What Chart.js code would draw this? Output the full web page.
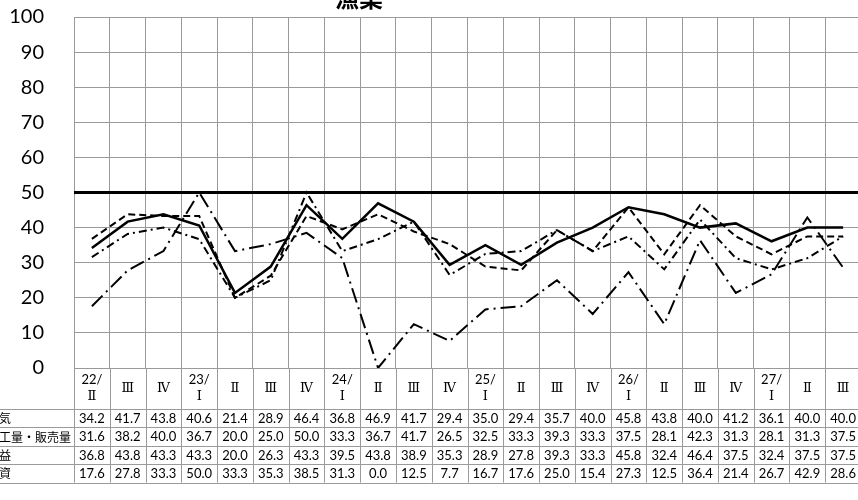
<!DOCTYPE html>
<html>
<head>
<meta charset="utf-8">
<script src="https://cdn.jsdelivr.net/npm/chart.js@4"></script>
<style>
  html, body { margin: 0; padding: 0; background: #fff; overflow: hidden; }
  #wrap { width: 862px; height: 500px; position: relative; }
</style>
</head>
<body>
<div id="wrap"><canvas id="diChart"></canvas></div>
<script>
  // Data
  const titleText = '漁業';
  const categories = [['22/', 'Ⅱ'], ['Ⅲ'], ['Ⅳ'], ['23/', 'Ⅰ'], ['Ⅱ'], ['Ⅲ'], ['Ⅳ'],
    ['24/', 'Ⅰ'], ['Ⅱ'], ['Ⅲ'], ['Ⅳ'], ['25/', 'Ⅰ'], ['Ⅱ'], ['Ⅲ'], ['Ⅳ'],
    ['26/', 'Ⅰ'], ['Ⅱ'], ['Ⅲ'], ['Ⅳ'], ['27/', 'Ⅰ'], ['Ⅱ'], ['Ⅲ']];
  const seriesNames = ['景気', '加工量・販売量', '収益', '投資'];
  const keiki = [34.2, 41.7, 43.8, 40.6, 21.4, 28.9, 46.4, 36.8, 46.9, 41.7, 29.4, 35.0, 29.4, 35.7, 40.0, 45.8, 43.8, 40.0, 41.2, 36.1, 40.0, 40.0];
  const kakouryou = [31.6, 38.2, 40.0, 36.7, 20.0, 25.0, 50.0, 33.3, 36.7, 41.7, 26.5, 32.5, 33.3, 39.3, 33.3, 37.5, 28.1, 42.3, 31.3, 28.1, 31.3, 37.5];
  const shueki = [36.8, 43.8, 43.3, 43.3, 20.0, 26.3, 43.3, 39.5, 43.8, 38.9, 35.3, 28.9, 27.8, 39.3, 33.3, 45.8, 32.4, 46.4, 37.5, 32.4, 37.5, 37.5];
  const toushi = [17.6, 27.8, 33.3, 50.0, 33.3, 35.3, 38.5, 31.3, 0.0, 12.5, 7.7, 16.7, 17.6, 25.0, 15.4, 27.3, 12.5, 36.4, 21.4, 26.7, 42.9, 28.6];
  const yTicks = [0, 10, 20, 30, 40, 50, 60, 70, 80, 90, 100];
  const baseLine = 50;

  const seriesValues = [keiki, kakouryou, shueki, toushi];
  const lineDashes = [[], [8, 4, 2, 4], [7, 4], [15, 5, 2, 5]];
  const lineWidths = [2.5, 2, 2, 2];

  const rowHeaderH = 41;
  const rowH = 18.4;

  const tablePlugin = {
    id: 'dataTable',
    beforeDatasetsDraw(chart) {
      const { ctx, chartArea } = chart;
      const y = chart.scales.y.getPixelForValue(baseLine);
      ctx.save();
      ctx.strokeStyle = '#000';
      ctx.lineWidth = 3;
      ctx.beginPath();
      ctx.moveTo(chartArea.left, y);
      ctx.lineTo(chartArea.right, y);
      ctx.stroke();
      ctx.restore();
    },
    afterDraw(chart) {
      const { ctx, chartArea } = chart;
      const x = chart.scales.x;
      const n = categories.length;
      const w = (chartArea.right - chartArea.left) / n;
      const top = chartArea.bottom;
      const headBottom = top + rowHeaderH;
      const bottom = headBottom + rowH * seriesValues.length;

      ctx.save();
      ctx.strokeStyle = '#9a9a9a';
      ctx.lineWidth = 1;
      // vertical lines
      for (let i = 0; i <= n; i++) {
        const px = Math.round(chartArea.left + i * w) + 0.5;
        ctx.beginPath();
        ctx.moveTo(px, top);
        ctx.lineTo(px, bottom);
        ctx.stroke();
      }
      // horizontal lines
      for (let r = 0; r <= seriesValues.length; r++) {
        const py = Math.round(headBottom + r * rowH) + 0.5;
        ctx.beginPath();
        ctx.moveTo(0, py);
        ctx.lineTo(chartArea.right, py);
        ctx.stroke();
      }

      // header row
      ctx.fillStyle = '#000';
      ctx.textAlign = 'center';
      ctx.textBaseline = 'middle';
      categories.forEach((lab, i) => {
        const cx = x.getPixelForValue(i);
        if (lab.length === 2) {
          ctx.font = '13px Lato, "Noto Sans CJK JP", sans-serif';
          ctx.fillText(lab[0], cx, top + 12);
          ctx.font = '13px "DejaVu Serif", "Noto Sans CJK JP", serif';
          ctx.fillText(lab[1], cx, top + 29);
        } else {
          ctx.font = '13px "DejaVu Serif", "Noto Sans CJK JP", serif';
          ctx.fillText(lab[0], cx, top + 21);
        }
      });

      // data rows
      ctx.font = '13px Lato, sans-serif';
      seriesValues.forEach((vals, r) => {
        const cy = headBottom + r * rowH + rowH / 2 + 0.5;
        vals.forEach((v, i) => {
          ctx.fillText(v.toFixed(1), x.getPixelForValue(i), cy);
        });
      });

      // row labels (left part cut off like the reference)
      ctx.textAlign = 'left';
      ctx.font = '12px "Noto Sans CJK JP", sans-serif';
      seriesNames.forEach((name, r) => {
        const cy = headBottom + r * rowH + rowH / 2 + 0.5;
        ctx.fillText(name, -13, cy);
      });

      // title, mostly above the canvas top
      ctx.textAlign = 'center';
      ctx.textBaseline = 'alphabetic';
      ctx.font = 'bold 24px "Noto Sans CJK JP", sans-serif';
      ctx.fillText(titleText, 359, 7);
      ctx.restore();
    }
  };

  const datasets = seriesNames.map((name, i) => ({
    label: name,
    data: seriesValues[i],
    borderColor: '#000',
    borderWidth: lineWidths[i],
    borderDash: lineDashes[i],
    pointRadius: 0,
    tension: 0,
    fill: false
  }));

  new Chart(document.getElementById('diChart'), {
    type: 'line',
    data: { labels: categories, datasets: datasets },
    options: {
      responsive: true,
      maintainAspectRatio: false,
      animation: false,
      layout: { padding: { top: 17, right: 1, bottom: 132, left: 0 } },
      plugins: {
        legend: { display: false },
        tooltip: { enabled: false },
        title: { display: false }
      },
      scales: {
        x: {
          offset: true,
          grid: { offset: true, color: '#9a9a9a', drawTicks: false },
          border: { display: false },
          ticks: { display: false }
        },
        y: {
          min: 0,
          max: 100,
          afterBuildTicks: function(scale) {
            scale.ticks = yTicks.map(v => ({ value: v }));
          },
          afterFit: function(scale) {
            scale.width = 74;
            scale.paddingTop = 0;
            scale.paddingBottom = 0;
          },
          grid: { color: '#9a9a9a', drawTicks: false },
          border: { display: false },
          ticks: {
            padding: 30,
            color: '#000',
            font: { family: 'Lato', size: 20 }
          }
        }
      }
    },
    plugins: [tablePlugin]
  });
</script>
</body>
</html>
